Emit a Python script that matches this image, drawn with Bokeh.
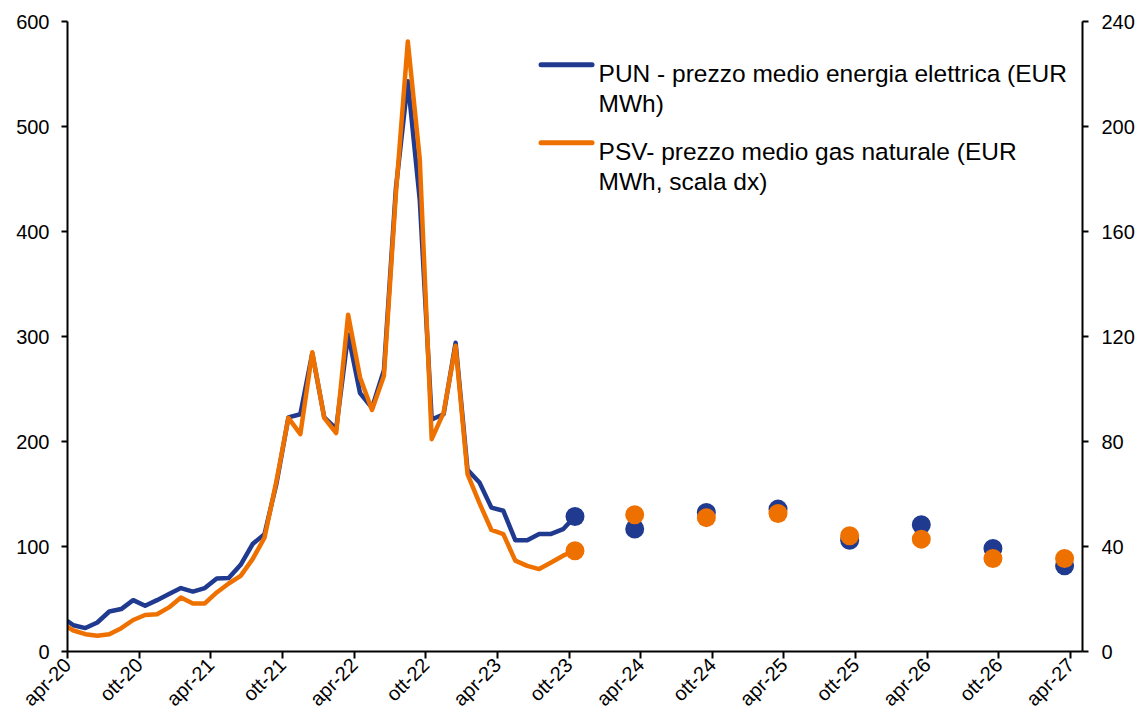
import math
import pandas as pd
from bokeh.plotting import figure
from bokeh.models import Range1d, LinearAxis, FixedTicker, BoxAnnotation, Label
from bokeh.embed import file_html
from bokeh.resources import INLINE

# ---------------- data ----------------
months = [str(p) for p in pd.period_range("2020-03", "2023-10", freq="M")]

# PUN - prezzo medio energia elettrica (EUR MWh), left axis
pun = [33, 25, 22.3, 27.6, 38.1, 40.4, 48.9, 43.5, 48.9, 54.7,
       60.4, 57.1, 60.4, 69.5, 69.9, 82.6, 102.3, 111.8, 160, 223, 226, 284,
       223, 212, 302, 246, 232, 268, 441, 543, 430, 221, 226, 294,
       173, 161, 137, 134, 106, 106, 112, 112, 116.5, 128.5]

# PSV - prezzo medio gas naturale (EUR MWh), right axis
psv = [10.8, 8.0, 6.6, 6.0, 6.6, 8.9, 12.0, 13.9, 14.2, 16.8,
       20.6, 18.3, 18.3, 22.5, 25.9, 28.8, 35.2, 43.4, 65.0, 89.0, 82.8, 114.0,
       89.0, 83.2, 128.3, 104.4, 92.0, 105.0, 174.2, 232.4, 187.6, 80.9, 91.0, 116.5,
       67.6, 56.5, 46.3, 44.7, 34.6, 32.6, 31.4, 33.9, 36.5, 38.4]

forecast_months = ["2023-10", "2024-03", "2024-09", "2025-03",
                   "2025-09", "2026-03", "2026-09", "2027-03"]
pun_fc = [128.5, 116.6, 132.4, 135.6, 106.0, 120.7, 98.1, 81.6]
psv_fc = [38.4, 52.1, 51.0, 52.6, 44.1, 42.8, 35.4, 35.4]

tick_months = ["2020-04", "2020-10", "2021-04", "2021-10", "2022-04", "2022-10",
               "2023-04", "2023-10", "2024-04", "2024-10", "2025-04", "2025-10",
               "2026-04", "2026-10", "2027-04"]
tick_labels = ["apr-20", "ott-20", "apr-21", "ott-21", "apr-22", "ott-22",
               "apr-23", "ott-23", "apr-24", "ott-24", "apr-25", "ott-25",
               "apr-26", "ott-26", "apr-27"]

legend_pun = ["PUN - prezzo medio energia elettrica (EUR", "MWh)"]
legend_psv = ["PSV-  prezzo medio gas naturale (EUR", "MWh, scala dx)"]

# ---------------- helpers ----------------
ORIGIN = pd.Period("2020-04", "M")


def month_pos(m, mid=True):
    return (pd.Period(m, "M") - ORIGIN).n + (0.5 if mid else 0.0)


x_hist = [month_pos(m) for m in months]
x_fc = [month_pos(m) for m in forecast_months]
x_ticks = [float(month_pos(m, mid=False)) for m in tick_months]

BLUE = "#203A8F"
ORANGE = "#EE7100"
FONT = "Liberation Sans"

p = figure(width=1139, height=720, output_backend="svg", toolbar_location=None,
           x_range=Range1d(0, 85), y_range=Range1d(0, 600))
p.extra_y_ranges = {"right": Range1d(0, 240)}
p.min_border_left = 67
p.min_border_right = 57
p.min_border_top = 21
p.min_border_bottom = 69
p.outline_line_color = None
p.xgrid.visible = False
p.ygrid.visible = False
p.background_fill_color = "white"
p.border_fill_color = "white"

right_axis = LinearAxis(y_range_name="right")
p.add_layout(right_axis, "right")

p.yaxis[0].ticker = FixedTicker(ticks=[0, 100, 200, 300, 400, 500, 600])
right_axis.ticker = FixedTicker(ticks=[0, 40, 80, 120, 160, 200, 240])
p.xaxis[0].ticker = FixedTicker(ticks=x_ticks)
p.xaxis[0].major_label_overrides = {t: l for t, l in zip(x_ticks, tick_labels)}
p.xaxis[0].major_label_orientation = math.pi / 4

for ax in [p.xaxis[0], p.yaxis[0], right_axis]:
    ax.axis_line_color = "black"
    ax.axis_line_width = 2
    ax.major_tick_line_color = "black"
    ax.major_tick_line_width = 2
    ax.major_tick_in = 0
    ax.major_tick_out = 6
    ax.minor_tick_line_color = None
    ax.major_label_text_font = FONT
    ax.major_label_text_font_size = "20px"
    ax.major_label_text_color = "black"
p.xaxis[0].major_tick_out = 7
p.yaxis[0].major_label_standoff = 12
right_axis.major_label_standoff = 13
p.xaxis[0].major_label_standoff = 3

# ---------------- marks ----------------
p.line(x_hist, pun, line_color=BLUE, line_width=4.5, line_join="round", line_cap="round")
p.line(x_hist, psv, line_color=ORANGE, line_width=4.5, line_join="round", line_cap="round",
       y_range_name="right")
p.scatter(x_fc, pun_fc, size=19, fill_color=BLUE, line_color=None)
p.scatter(x_fc, psv_fc, size=19, fill_color=ORANGE, line_color=None, y_range_name="right")

# ---------------- legend (manual, wrapped text) ----------------
def ypix(py):  # page pixel row -> left-axis units
    return (650.7 - py) / 1.05


def xpix(px):  # page pixel column -> month units
    return (px - 67.0) / 11.94


for color, lines, sw_y in [(BLUE, legend_pun, 64), (ORANGE, legend_psv, 142)]:
    p.add_layout(BoxAnnotation(left=xpix(538), right=xpix(594),
                               top=ypix(sw_y - 2.5), bottom=ypix(sw_y + 2.5),
                               fill_color=color, fill_alpha=1, line_color=None,
                               border_radius=3))
    for i, txt in enumerate(lines):
        p.add_layout(Label(x=xpix(598), y=ypix(sw_y + 9 + 30 * i), text=txt,
                           text_font=FONT, text_font_size="24.5px", text_color="black",
                           text_baseline="alphabetic", text_align="left"))

open("out.html", "w").write(file_html(p, INLINE))
